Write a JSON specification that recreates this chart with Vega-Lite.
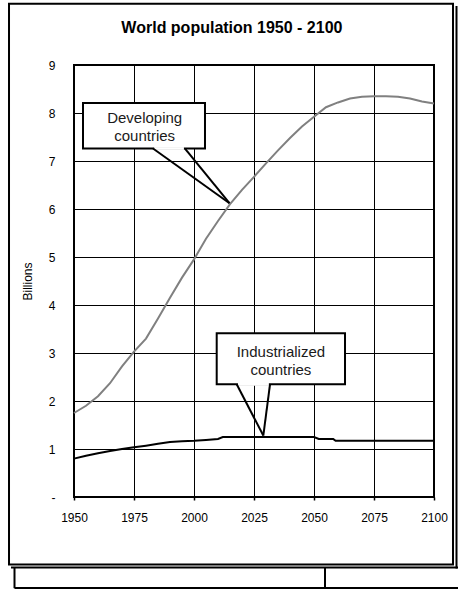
{
  "$schema": "https://vega.github.io/schema/vega-lite/v6.json",
  "width": 360,
  "height": 432,
  "autosize": {"type": "none"},
  "padding": {"left": 74, "top": 65, "right": 24, "bottom": 101},
  "background": "white",
  "config": {
    "font": "Liberation Sans",
    "view": {"stroke": "#000", "strokeWidth": 2}
  },
  "datasets": {
    "pop": [
      {"year": 1950, "value": 1.75, "region": "Developing countries"},
      {"year": 1955, "value": 1.9, "region": "Developing countries"},
      {"year": 1960, "value": 2.1, "region": "Developing countries"},
      {"year": 1965, "value": 2.37, "region": "Developing countries"},
      {"year": 1970, "value": 2.72, "region": "Developing countries"},
      {"year": 1975, "value": 3.03, "region": "Developing countries"},
      {"year": 1980, "value": 3.3, "region": "Developing countries"},
      {"year": 1985, "value": 3.72, "region": "Developing countries"},
      {"year": 1990, "value": 4.15, "region": "Developing countries"},
      {"year": 1995, "value": 4.57, "region": "Developing countries"},
      {"year": 2000, "value": 4.95, "region": "Developing countries"},
      {"year": 2005, "value": 5.38, "region": "Developing countries"},
      {"year": 2010, "value": 5.75, "region": "Developing countries"},
      {"year": 2015, "value": 6.1, "region": "Developing countries"},
      {"year": 2020, "value": 6.4, "region": "Developing countries"},
      {"year": 2025, "value": 6.67, "region": "Developing countries"},
      {"year": 2030, "value": 6.95, "region": "Developing countries"},
      {"year": 2035, "value": 7.22, "region": "Developing countries"},
      {"year": 2040, "value": 7.48, "region": "Developing countries"},
      {"year": 2045, "value": 7.72, "region": "Developing countries"},
      {"year": 2050, "value": 7.92, "region": "Developing countries"},
      {"year": 2055, "value": 8.12, "region": "Developing countries"},
      {"year": 2060, "value": 8.22, "region": "Developing countries"},
      {"year": 2065, "value": 8.3, "region": "Developing countries"},
      {"year": 2070, "value": 8.34, "region": "Developing countries"},
      {"year": 2075, "value": 8.35, "region": "Developing countries"},
      {"year": 2080, "value": 8.35, "region": "Developing countries"},
      {"year": 2085, "value": 8.34, "region": "Developing countries"},
      {"year": 2090, "value": 8.3, "region": "Developing countries"},
      {"year": 2095, "value": 8.24, "region": "Developing countries"},
      {"year": 2100, "value": 8.2, "region": "Developing countries"},
      {"year": 1950, "value": 0.8, "region": "Industrialized countries"},
      {"year": 1955, "value": 0.86, "region": "Industrialized countries"},
      {"year": 1960, "value": 0.91, "region": "Industrialized countries"},
      {"year": 1965, "value": 0.96, "region": "Industrialized countries"},
      {"year": 1970, "value": 1.0, "region": "Industrialized countries"},
      {"year": 1975, "value": 1.035, "region": "Industrialized countries"},
      {"year": 1980, "value": 1.07, "region": "Industrialized countries"},
      {"year": 1985, "value": 1.11, "region": "Industrialized countries"},
      {"year": 1990, "value": 1.146, "region": "Industrialized countries"},
      {"year": 1995, "value": 1.16, "region": "Industrialized countries"},
      {"year": 2000, "value": 1.17, "region": "Industrialized countries"},
      {"year": 2005, "value": 1.19, "region": "Industrialized countries"},
      {"year": 2010, "value": 1.21, "region": "Industrialized countries"},
      {"year": 2012, "value": 1.25, "region": "Industrialized countries"},
      {"year": 2030, "value": 1.25, "region": "Industrialized countries"},
      {"year": 2050, "value": 1.25, "region": "Industrialized countries"},
      {"year": 2052, "value": 1.21, "region": "Industrialized countries"},
      {"year": 2058, "value": 1.21, "region": "Industrialized countries"},
      {"year": 2059, "value": 1.17, "region": "Industrialized countries"},
      {"year": 2100, "value": 1.17, "region": "Industrialized countries"}
    ],
    "frame": [
      {"x1": 1922.92, "x2": 2107.92, "y1": 10.277, "y2": -1.40625}
    ],
    "boxes": [
      {"x1": 1953.75, "x2": 2004.58, "y1": 8.208, "y2": 7.26},
      {"x1": 2009.46, "x2": 2062.92, "y1": 3.41, "y2": 2.348}
    ],
    "gaps": [
      {"x1": 1983.4, "x2": 1995.8, "y1": 7.29, "y2": 7.232},
      {"x1": 2018.3, "x2": 2031.2, "y1": 2.378, "y2": 2.32}
    ],
    "rules": [
      {"x1": 1982.92, "y1": 7.26, "x2": 2014.79, "y2": 6.12},
      {"x1": 1996.25, "y1": 7.26, "x2": 2014.79, "y2": 6.12},
      {"x1": 2017.79, "y1": 2.348, "x2": 2028.88, "y2": 1.28},
      {"x1": 2031.67, "y1": 2.348, "x2": 2028.88, "y2": 1.28},
      {"x1": 2109.375, "y1": 10.229, "x2": 2109.375, "y2": -1.4896},
      {"x1": 1923.75, "y1": -1.46875, "x2": 2110, "y2": -1.46875},
      {"x1": 1925.21, "y1": -1.46875, "x2": 1925.21, "y2": -1.9},
      {"x1": 1925.21, "y1": -1.8958, "x2": 2110, "y2": -1.8958},
      {"x1": 2054.58, "y1": -1.46875, "x2": 2054.58, "y2": -1.8958}
    ],
    "labels": [
      {"x": 1979.45, "y": 7.785, "text": "Developing"},
      {"x": 1979.45, "y": 7.423, "text": "countries"},
      {"x": 2036.2, "y": 2.91, "text": "Industrialized"},
      {"x": 2036.2, "y": 2.542, "text": "countries"}
    ],
    "title": [
      {"x": 2015.8, "y": 9.66, "text": "World population 1950 - 2100"}
    ]
  },
  "layer": [
    {
      "data": {"name": "pop"},
      "mark": {"type": "line", "strokeWidth": 2},
      "encoding": {
        "x": {
          "field": "year", "type": "quantitative",
          "scale": {"domain": [1950, 2100], "nice": false, "zero": false},
          "axis": {
            "title": null,
            "values": [1950, 1975, 2000, 2025, 2050, 2075, 2100],
            "format": "d",
            "grid": true, "gridColor": "#000", "gridWidth": 1, "gridOpacity": 1,
            "domain": false,
            "ticks": true, "tickSize": 3, "tickColor": "#000", "tickWidth": 1.5,
            "labelFontSize": 12, "labelColor": "#000", "labelPadding": 12,
            "labelFlush": false, "labelOverlap": false
          }
        },
        "y": {
          "field": "value", "type": "quantitative",
          "scale": {"domain": [0, 9], "nice": false},
          "axis": {
            "title": "Billions",
            "values": [0, 1, 2, 3, 4, 5, 6, 7, 8, 9],
            "labelExpr": "datum.value == 0 ? '-' : datum.label",
            "grid": true, "gridColor": "#000", "gridWidth": 1, "gridOpacity": 1,
            "domain": false, "ticks": false,
            "labelFontSize": 12, "labelColor": "#000", "labelPadding": 19,
            "titleFontSize": 12, "titleFontWeight": "normal", "titleColor": "#000",
            "titlePadding": 14
          }
        },
        "color": {
          "field": "region", "type": "nominal",
          "scale": {"domain": ["Developing countries", "Industrialized countries"], "range": ["#808080", "#000000"]},
          "legend": null
        }
      }
    },
    {
      "data": {"name": "frame"},
      "mark": {"type": "rect", "filled": false, "stroke": "#000", "strokeWidth": 2},
      "encoding": {
        "x": {"field": "x1", "type": "quantitative", "axis": {"title": null}},
        "x2": {"field": "x2"},
        "y": {"field": "y1", "type": "quantitative", "axis": {"title": "Billions"}},
        "y2": {"field": "y2"}
      }
    },
    {
      "data": {"name": "boxes"},
      "mark": {"type": "rect", "fill": "#fff", "stroke": "#000", "strokeWidth": 2},
      "encoding": {
        "x": {"field": "x1", "type": "quantitative", "axis": {"title": null}},
        "x2": {"field": "x2"},
        "y": {"field": "y1", "type": "quantitative", "axis": {"title": "Billions"}},
        "y2": {"field": "y2"}
      }
    },
    {
      "data": {"name": "gaps"},
      "mark": {"type": "rect", "fill": "#fff", "strokeWidth": 0},
      "encoding": {
        "x": {"field": "x1", "type": "quantitative", "axis": {"title": null}},
        "x2": {"field": "x2"},
        "y": {"field": "y1", "type": "quantitative", "axis": {"title": "Billions"}},
        "y2": {"field": "y2"}
      }
    },
    {
      "data": {"name": "rules"},
      "mark": {"type": "rule", "stroke": "#000", "strokeWidth": 2},
      "encoding": {
        "x": {"field": "x1", "type": "quantitative", "axis": {"title": null}},
        "x2": {"field": "x2"},
        "y": {"field": "y1", "type": "quantitative", "axis": {"title": "Billions"}},
        "y2": {"field": "y2"}
      }
    },
    {
      "data": {"name": "labels"},
      "mark": {"type": "text", "fontSize": 15, "align": "center", "baseline": "alphabetic", "color": "#1a1a1a"},
      "encoding": {
        "x": {"field": "x", "type": "quantitative", "axis": {"title": null}},
        "y": {"field": "y", "type": "quantitative", "axis": {"title": "Billions"}},
        "text": {"field": "text"}
      }
    },
    {
      "data": {"name": "title"},
      "mark": {"type": "text", "fontSize": 16, "fontWeight": "bold", "align": "center", "baseline": "alphabetic", "color": "#000"},
      "encoding": {
        "x": {"field": "x", "type": "quantitative", "axis": {"title": null}},
        "y": {"field": "y", "type": "quantitative", "axis": {"title": "Billions"}},
        "text": {"field": "text"}
      }
    }
  ]
}
